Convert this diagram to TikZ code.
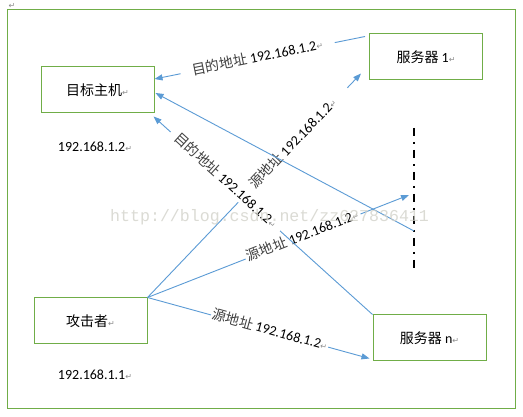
\documentclass[tikz,border=0pt]{standalone}
\usepackage{fontspec}
\setmainfont{Carlito}
\newfontfamily\cjk{Noto Sans CJK SC}
\newfontfamily\symf{DejaVu Sans}
\newfontfamily\wmf{Liberation Mono}
\usetikzlibrary{arrows.meta,calc}
\definecolor{boxgreen}{HTML}{70AD47}
\definecolor{lineblue}{HTML}{5B9BD5}
\definecolor{retgray}{HTML}{8C8C8C}
\definecolor{wmgray}{HTML}{D2D2CA}
\newcommand{\retmark}{{\symf\color{retgray}\fontsize{8}{8}\selectfont ↵}}
\newcommand{\dstlbl}{{\color{black!75}\cjk 目的地址} 192.168.1.2\retmark}
\newcommand{\srclbl}{{\color{black!75}\cjk 源地址} 192.168.1.2\retmark}
\begin{document}
\begin{tikzpicture}[x=1pt,y=-1pt,
  hostbox/.style={draw=boxgreen, line width=1pt, minimum width=113pt, minimum height=46pt, inner sep=0pt, font=\fontsize{14}{16}\selectfont},
  iplabel/.style={inner sep=0pt, font=\fontsize{14}{16}\selectfont},
  conn/.style={draw=lineblue, line width=0.9pt, -{Triangle[length=8pt,width=6pt]}},
  edgelbl/.style={sloped, fill=white, inner ysep=0.5pt, text height=10pt, text depth=2.5pt, font=\fontsize{14}{16}\selectfont},
  ddline/.style={draw=black, line width=2.5pt, dash pattern=on 8pt off 6pt on 2pt off 6pt}
]
\useasboundingbox (0,0) rectangle (523,417);
\fill[white] (0,0) rectangle (523,417);
\node[inner sep=0pt] (topret) at (12,6) {\retmark};
\draw[boxgreen, line width=1pt] (7,9.5) rectangle (515,408);

\node[hostbox] (host) at (97.5,90) {{\cjk 目标主机}\retmark};
\node[hostbox] (srv1) at (426,57) {{\cjk 服务器} 1\retmark};
\node[hostbox] (atk) at (90.5,321) {{\cjk 攻击者}\retmark};
\node[hostbox] (srvn) at (429.5,338) {{\cjk 服务器} n\retmark};
\node[iplabel] (ip1) at (95,147) {192.168.1.2\retmark};
\node[iplabel] (ip2) at (95,375) {192.168.1.1\retmark};

\coordinate (ddtop) at (414,128);
\coordinate (ddbot) at (414,268);
\coordinate (dd1) at (414,231);
\coordinate (dd2) at (409,195);
\draw[ddline] (ddtop) -- (ddbot);

\draw[conn] (atk.north east) -- node[edgelbl,pos=0.55,inner xsep=1pt]{\srclbl} ($(srvn.south west)+(-3,-3)$);
\draw[conn] (atk.north east) -- node[edgelbl,pos=0.595,inner xsep=2pt]{\srclbl} (dd2);
\draw[conn] (atk.north east) -- node[edgelbl,pos=0.685,inner xsep=18pt]{\srclbl} ($(srv1.south west)+(-8,-7)$);
\draw[conn] ($(srv1.north west)+(-4,3)$) -- node[edgelbl,pos=0.51,inner xsep=12pt]{\dstlbl} ($(host.east)+(0,-11)$);
\draw[conn] (srvn.north west) -- node[edgelbl,pos=0.672,inner xsep=7pt]{\dstlbl} ($(host.south east)+(-1,3)$);
\draw[conn] (dd1) -- ($(host.east)+(1,3)$);

\node[inner sep=0pt, anchor=west, text=wmgray, opacity=0.8, font=\wmf\fontsize{16.6}{18}\selectfont] (wm) at (110,217) {http://blog.csdn.net/zz627836411};
\end{tikzpicture}
\end{document}
